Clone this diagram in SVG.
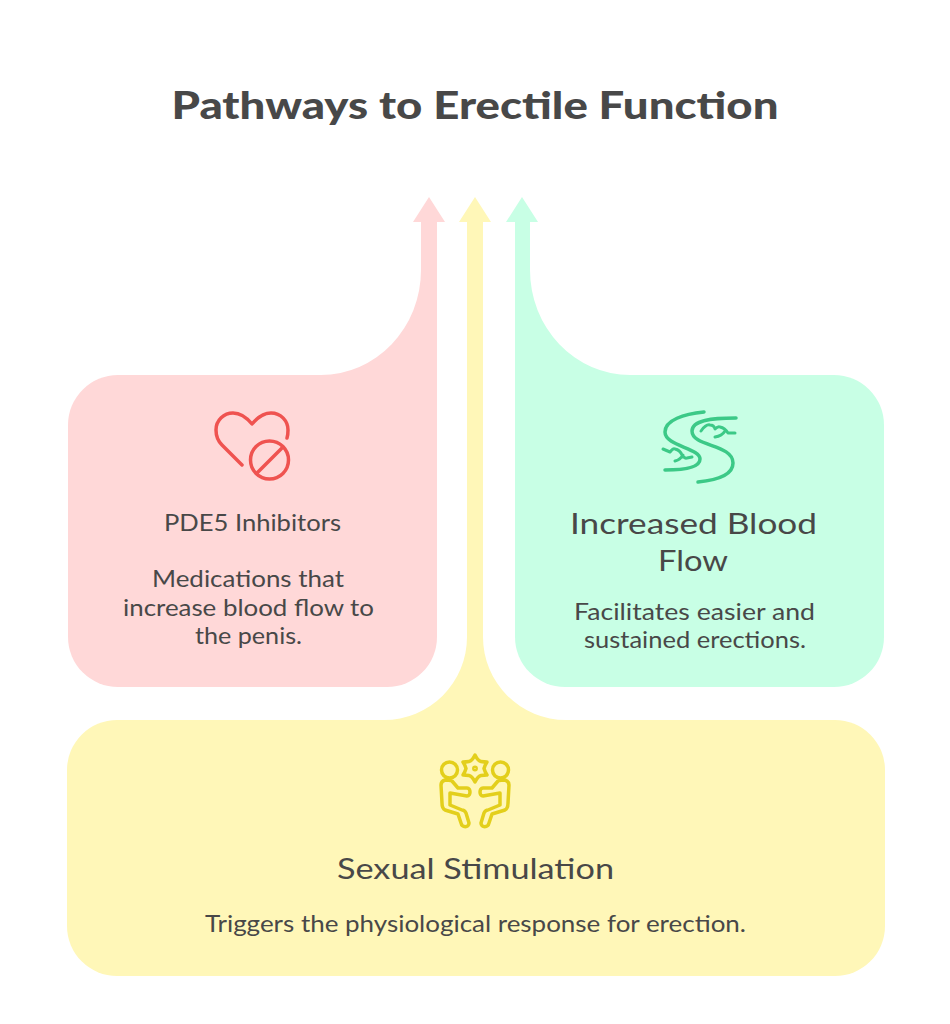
<svg xmlns="http://www.w3.org/2000/svg" width="950" height="1024" viewBox="0 0 950 1024">
<style>
text{font-family:"Lato","Noto Sans",sans-serif;fill:#484848;text-anchor:middle}
.t{font-size:22.5px}
.h{font-size:29px}
.i{fill:none;stroke-width:3.5;stroke-linecap:round;stroke-linejoin:round}
.r{fill:#ffd8d8}
.y{fill:#fff7b8}
.g{fill:#c8ffe5}
</style>
<rect width="950" height="1024" fill="#fff"/>
<text x="475" y="119" font-size="38" font-weight="900" textLength="607" lengthAdjust="spacingAndGlyphs">Pathways to Erectile Function</text>
<g id="connectors">
<path id="arrow-red" class="r" d="M429 197L445 222H437V380H320V375H321A100 105 0 0 0 421 270V222H413Z"/>
<path id="arrow-yellow" class="y" d="M475 197L491 222H483V637A83 83 0 0 0 566 720V725H384V720A83 83 0 0 0 467 637V222H459Z"/>
<path id="arrow-green" class="g" d="M522 197L538 222H530V270A100 105 0 0 0 630 375V380H515V222H506Z"/>
</g>
<g id="node-pde5">
<path class="r" d="M118 375H437V637A50 50 0 0 1 387 687H118A50 50 0 0 1 68 637V425A50 50 0 0 1 118 375Z"/>
<g class="i" stroke="#ef5350">
<path d="M242 465L222 445C218 441 216 436 216 430C216 420 224 413 233 413C241 413 247 418 252 424C257 418 263 413 271 413C281 413 288 421 288 430C288 433 288 435 287 438"/>
<circle cx="269.500" cy="460" r="19"/>
<path d="M257 473L282 448"/>
</g>
<text class="t" x="252.500" y="531" textLength="177" lengthAdjust="spacingAndGlyphs">PDE5 Inhibitors</text>
<text class="t" x="248" y="587" textLength="192" lengthAdjust="spacingAndGlyphs">Medications that</text>
<text class="t" x="248.500" y="616" textLength="251" lengthAdjust="spacingAndGlyphs">increase blood flow to</text>
<text class="t" x="248.500" y="644" textLength="107" lengthAdjust="spacingAndGlyphs">the penis.</text>
</g>
<g id="node-blood">
<path class="g" d="M515 375H834A50 50 0 0 1 884 425V637A50 50 0 0 1 834 687H565A50 50 0 0 1 515 637Z"/>
<g class="i" stroke="#3cc987">
<path d="M704 412C684 414 665 420 665 432C665 446 700 448 700 459C700 466 690 470 665 470"/>
<path d="M736 418C712 418 692 420 692 431C692 447 733 444 733 463C733 475 718 480 698 482"/>
<path stroke-width="3" d="M701 431Q706 424 710 425Q714 425 715 429Q718 426 720 427Q725 428 728 433L735 433M715 437Q722 436 725 431"/>
<path stroke-width="3" d="M663 449L670 452Q673 448 675 449Q680 450 682 455Q685 459 687 458L692 457M675 461Q680 460 683 455"/>
</g>
<text class="h" x="693.500" y="534" textLength="247" lengthAdjust="spacingAndGlyphs">Increased Blood</text>
<text class="h" x="693" y="571" textLength="70" lengthAdjust="spacingAndGlyphs">Flow</text>
<text class="t" x="694.500" y="620" textLength="241" lengthAdjust="spacingAndGlyphs">Facilitates easier and</text>
<text class="t" x="695" y="648" textLength="222" lengthAdjust="spacingAndGlyphs">sustained erections.</text>
</g>
<g id="node-stim">
<rect class="y" x="67" y="720" width="818" height="256" rx="50"/>
<g class="i" stroke="#e3cf1b">
<circle cx="449.500" cy="770" r="8"/>
<circle cx="500.500" cy="770" r="8"/>
<path d="M475 755Q478 761 481 761.500Q484 762 487 762Q485 765 484 768.500Q485 772 487 775Q484 775 481 775.500Q478 776 475 782Q472 776 469 775.500Q466 775 463 775Q465 772 466 768.500Q465 765 463 762Q466 762 469 761.500Q472 761 475 755Z"/>
<circle cx="475" cy="768.500" r="1.200"/>
<path d="M445 780C442 781 441 783 441 785L442 803C442 807 443 809 445 810L458 814L461 823C462 828 469 828 469 823L466 813C465 811 464 810 462 810L450 805V793L467 796C471 796 471 788 467 788H458L452 781C450 780 447 780 445 780Z"/>
<path d="M505 780C508 781 509 783 509 785L508 803C508 807 507 809 505 810L492 814L489 823C488 828 481 828 481 823L484 813C485 811 486 810 488 810L500 805V793L483 796C479 796 479 788 483 788H492L498 781C500 780 503 780 505 780Z"/>
</g>
<text class="h" x="475.500" y="879" textLength="277" lengthAdjust="spacingAndGlyphs">Sexual Stimulation</text>
<text class="t" x="475.500" y="932" textLength="541" lengthAdjust="spacingAndGlyphs">Triggers the physiological response for erection.</text>
</g>
</svg>
